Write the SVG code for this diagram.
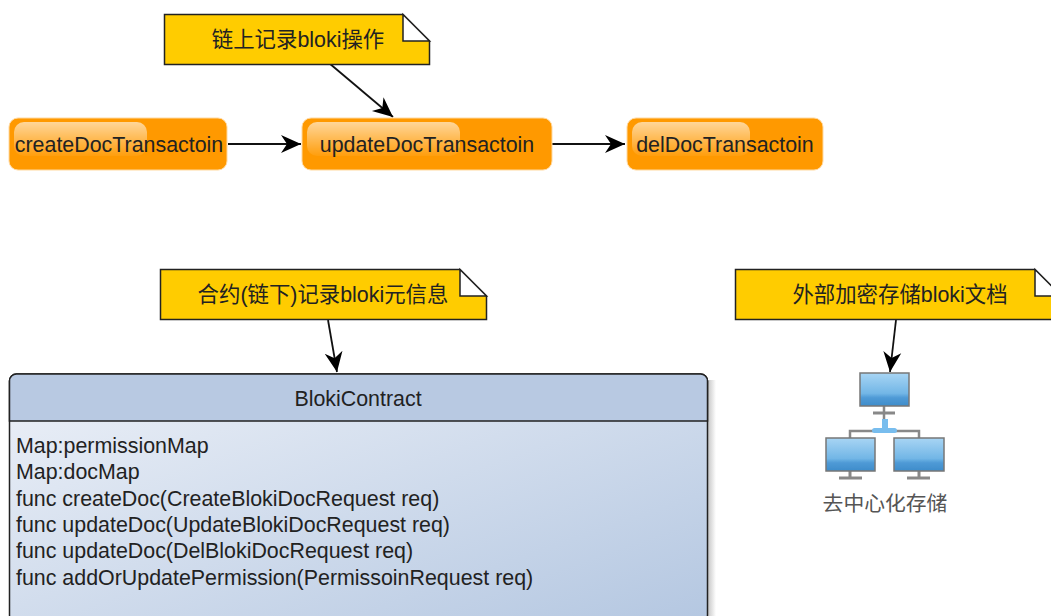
<svg xmlns="http://www.w3.org/2000/svg" width="1051" height="616" viewBox="0 0 1051 616">
<style>
text{font-family:"Liberation Sans","Noto Sans CJK SC",sans-serif;fill:#222;font-size:21.400px}
.t,.n{text-anchor:middle}
.note{fill:#ffcc00;stroke:#222;stroke-width:1.5}
.fold{fill:#fff;stroke:#222;stroke-width:1.5}
.tx{fill:#ff9900;stroke:#ffd9a0;stroke-width:1}
.gl{fill:url(#gloss)}
.conn{fill:none;stroke:#111;stroke-width:1.8;marker-end:url(#arr)}
.mon{fill:url(#scr);stroke:#777;stroke-width:1.5}
.st{fill:none;stroke:#888;stroke-width:2.500}
</style>
<defs>
<marker id="arr" markerUnits="userSpaceOnUse" markerWidth="22" markerHeight="20" refX="20" refY="10" orient="auto"><path d="M0 1L20 10L0 19L6 10Z" fill="#000"/></marker>
<linearGradient id="gloss" x1="0" y1="0" x2="0" y2="1"><stop offset="0" stop-color="#fff" stop-opacity=".6"/><stop offset="1" stop-color="#fff" stop-opacity=".05"/></linearGradient>
<linearGradient id="body" x1="0" y1="0" x2="1" y2="1"><stop offset="0" stop-color="#edf1f8"/><stop offset="1" stop-color="#b4c7e1"/></linearGradient>
<linearGradient id="scr" x1="0" y1="0" x2="0" y2="1"><stop offset="0" stop-color="#a8d5f4"/><stop offset=".62" stop-color="#72b6e6"/><stop offset=".75" stop-color="#4f9ad6"/><stop offset="1" stop-color="#3e8cca"/></linearGradient>
<linearGradient id="shade" x1="0" y1="0" x2="1" y2="0"><stop offset="0" stop-color="#999" stop-opacity=".55"/><stop offset="1" stop-color="#999" stop-opacity="0"/></linearGradient>
<filter id="soft" x="-10%" y="-10%" width="120%" height="120%"><feGaussianBlur stdDeviation="0.600"/></filter>
</defs>
<g id="connectors">
<path class="conn" d="M228 144H301"/>
<path class="conn" d="M552 144H625"/>
<path class="conn" d="M329 63L393 117"/>
<path class="conn" d="M328 320L337 372"/>
<path class="conn" d="M896 320L890 372"/>
</g>
<g id="note-chain"><path class="note" d="M164.500 14.500H403L429.500 41V64.500H164.500Z"/><path class="fold" d="M403 14.500V41H429.500Z"/><text class="n" x="298" y="47">链上记录bloki操作</text></g>
<g id="create"><rect class="tx" x="9" y="118" width="218" height="52" rx="9"/><rect class="gl" x="14" y="122" width="133" height="34" rx="10"/><text class="t" x="119" y="152">createDocTransactoin</text></g>
<g id="update"><rect class="tx" x="302" y="118" width="250" height="52" rx="9"/><rect class="gl" x="307" y="122" width="153" height="34" rx="10"/><text class="t" x="427" y="152">updateDocTransactoin</text></g>
<g id="del"><rect class="tx" x="627" y="118" width="196" height="52" rx="9"/><rect class="gl" x="632" y="122" width="118" height="34" rx="10"/><text class="t" x="725" y="152">delDocTransactoin</text></g>
<g id="note-contract"><path class="note" d="M160.500 269.500H460L486.500 296V319.500H160.500Z"/><path class="fold" d="M460 269.500V296H486.500Z"/><text class="n" x="323" y="302">合约(链下)记录bloki元信息</text></g>
<g id="note-storage"><path class="note" d="M735.500 269.500H1035L1061.500 296V319.500H735.500Z"/><path class="fold" d="M1035 269.500V296H1061.500Z"/><text class="n" x="900" y="302">外部加密存储bloki文档</text></g>
<g id="contract">
<rect x="708" y="380" width="8" height="236" fill="url(#shade)"/>
<rect x="9.500" y="374" width="698" height="248" rx="7" fill="url(#body)" stroke="#222" stroke-width="1.5"/>
<path d="M9.500 421V381a7 7 0 0 1 7-7H700.500a7 7 0 0 1 7 7V421Z" fill="#b8c9e2" stroke="#222" stroke-width="1.5"/>
<text class="n" x="358" y="406">BlokiContract</text>
<text x="16" y="453">Map:permissionMap</text>
<text x="16" y="479">Map:docMap</text>
<text x="16" y="506">func createDoc(CreateBlokiDocRequest req)</text>
<text x="16" y="532">func updateDoc(UpdateBlokiDocRequest req)</text>
<text x="16" y="558">func updateDoc(DelBlokiDocRequest req)</text>
<text x="16" y="585">func addOrUpdatePermission(PermissoinRequest req)</text>
</g>
<g id="storage">
<g filter="url(#soft)">
<path class="st" d="M884 406V420M850 438V431H919V438"/>
<path d="M873 413H895M839 478H862M907 478H930" stroke="#888" stroke-width="3" fill="none"/>
<path d="M850 471V478M919 471V478" stroke="#888" stroke-width="3"/>
<path d="M885 419V431" stroke="#78bdee" stroke-width="6"/>
<rect x="872" y="428" width="25" height="5" rx="2.500" fill="#78bdee"/>
<rect class="mon" x="860" y="373" width="49" height="33"/>
<rect class="mon" x="826" y="438" width="49" height="33"/>
<rect class="mon" x="894" y="438" width="50" height="33"/>
</g>
<text x="885" y="511" text-anchor="middle" style="fill:#555;font-size:20.800px">去中心化存储</text>
</g>
</svg>
